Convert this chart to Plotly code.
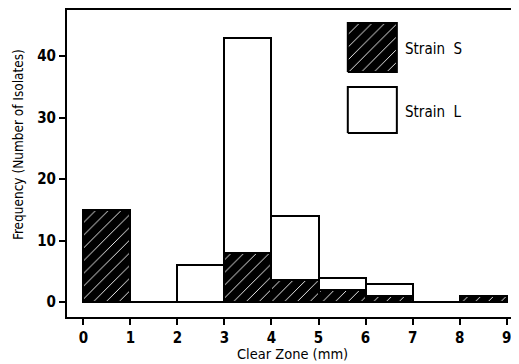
import plotly.graph_objects as go

# Data
bin_left = [0, 1, 2, 3, 4, 5, 6, 7, 8]
strain_s = [15, 0, 0, 8, 3.6, 2, 1, 0, 1]
strain_l_total = [0, 0, 6, 43, 14, 4, 2.9, 0, 0]
x_ticks = [0, 1, 2, 3, 4, 5, 6, 7, 8, 9]
y_ticks = [0, 10, 20, 30, 40]
x_title = "Clear Zone (mm)"
y_title = "Frequency (Number of Isolates)"

centers = [b + 0.5 for b in bin_left]
FONT = "DejaVu Sans Condensed, Liberation Sans Narrow, sans-serif"

fig = go.Figure()
fig.add_trace(go.Bar(
    x=centers, y=strain_l_total, width=1, name="Strain L",
    marker=dict(color="white", line=dict(color="black", width=2)),
    showlegend=False,
))
fig.add_trace(go.Bar(
    x=centers, y=strain_s, width=1, name="Strain S",
    marker=dict(color="black", line=dict(color="black", width=2),
                pattern=dict(shape="/", fgcolor="white", bgcolor="black",
                             size=9, solidity=0.1, fillmode="replace")),
    showlegend=False,
))

# Legend keys drawn on an overlay axis spanning the plot area (0..1)
fig.add_trace(go.Scatter(
    x=[0.624, 0.733, 0.733, 0.624, 0.624], y=[0.798, 0.798, 0.958, 0.958, 0.798],
    xaxis="x2", yaxis="y2", mode="lines", fill="toself",
    fillcolor="black",
    fillpattern=dict(shape="/", fgcolor="white", bgcolor="black", size=9,
                     solidity=0.1, fillmode="replace"),
    line=dict(color="black", width=2), showlegend=False, hoverinfo="skip",
))
fig.add_trace(go.Scatter(
    x=[0.624, 0.733, 0.733, 0.624, 0.624], y=[0.599, 0.599, 0.749, 0.749, 0.599],
    xaxis="x2", yaxis="y2", mode="lines", fill="toself", fillcolor="white",
    line=dict(color="black", width=2), showlegend=False, hoverinfo="skip",
))

fig.add_annotation(x=0.747, y=0.873, xref="paper", yref="paper", text="Strain  S",
                   showarrow=False, xanchor="left", yanchor="middle",
                   font=dict(family=FONT, size=15, color="black"))
fig.add_annotation(x=0.747, y=0.668, xref="paper", yref="paper", text="Strain  L",
                   showarrow=False, xanchor="left", yanchor="middle",
                   font=dict(family=FONT, size=15, color="black"))
# Axis titles
fig.add_annotation(x=0.5, y=0, xref="paper", yref="paper", text=x_title,
                   showarrow=False, xanchor="center", yanchor="middle", yshift=-37,
                   font=dict(family=FONT, size=14.5, color="black"))
fig.add_annotation(x=0, y=0.56, xref="paper", yref="paper", text=y_title,
                   showarrow=False, xanchor="center", yanchor="middle", xshift=-49,
                   textangle=-90, font=dict(family=FONT, size=13.5, color="black"))

fig.update_layout(
    width=511, height=356,
    margin=dict(l=59, r=2, t=2, b=47),
    paper_bgcolor="white", plot_bgcolor="white",
    barmode="overlay", bargap=0,
    font=dict(family=FONT, color="black"),
    xaxis=dict(range=[-0.347, 9.22], tickvals=x_ticks, ticks="outside", ticklen=6,
               tickwidth=1.5, tickcolor="black", showline=True, linecolor="black",
               linewidth=2, mirror=True, showgrid=False, zeroline=False, automargin=False,
               tickfont=dict(family=FONT, size=15, weight="bold")),
    yaxis=dict(range=[-2.4, 47.5], tickvals=y_ticks, ticks="outside", ticklen=6,
               tickwidth=1.5, tickcolor="black", showline=True, linecolor="black",
               linewidth=2, mirror=True, showgrid=False, zeroline=False, automargin=False,
               tickfont=dict(family=FONT, size=15, weight="bold")),
    xaxis2=dict(range=[0, 1], overlaying="x", visible=False, fixedrange=True),
    yaxis2=dict(range=[0, 1], overlaying="y", visible=False, fixedrange=True),
)

fig.write_html("out.html")
